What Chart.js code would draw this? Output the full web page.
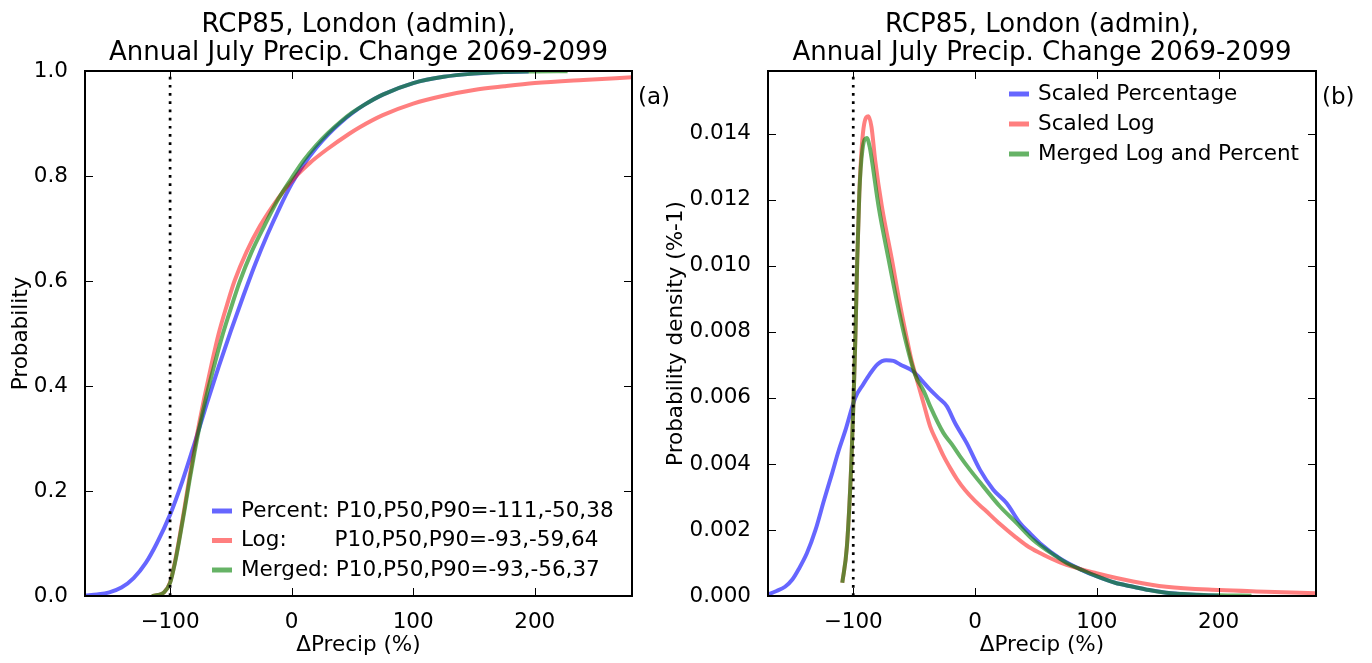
<!DOCTYPE html>
<html>
<head>
<meta charset="utf-8">
<script src="https://cdn.jsdelivr.net/npm/chart.js@4.4.1/dist/chart.umd.min.js"></script>
<style>
  body { margin: 0; background: #fff; width: 1372px; height: 663px; position: relative; overflow: hidden; }
  canvas { position: absolute; top: 0; }
  #cdfChart { left: 0; }
  #pdfChart { left: 655px; }
</style>
</head>
<body>
<canvas id="cdfChart" width="690" height="663"></canvas>
<canvas id="pdfChart" width="717" height="663"></canvas>
<script>
const FONT = '"DejaVu Sans", "Liberation Sans", sans-serif';

/* -------------------------------------------------------------
 * DATA
 * ------------------------------------------------------------- */

const titleLines = ['RCP85, London (admin),', 'Annual July Precip. Change 2069-2099'];
const xTicks = [-100, 0, 100, 200];
const cdfTicks = [0, 0.2, 0.4, 0.6, 0.8, 1.0];
const pdfTicks = [0, 0.002, 0.004, 0.006, 0.008, 0.010, 0.012, 0.014];
const threshold = -100;

const cdfLabels = [
	'Percent: P10,P50,P90=-111,-50,38',
	'Log:       P10,P50,P90=-93,-59,64',
	'Merged: P10,P50,P90=-93,-56,37'
];
const pdfLabels = ['Scaled Percentage', 'Scaled Log', 'Merged Log and Percent'];

// (a) cumulative probability
const pctX = [-170, -160, -150, -140, -130, -120, -111, -100, -90, -80, -70, -60, -50, -40, -30, -20, -10, 0, 10, 20, 30, 40, 50, 60, 75, 100, 125, 150, 175, 195];
const pctP = [0.001, 0.003, 0.007, 0.016, 0.034, 0.063, 0.100, 0.155, 0.218, 0.290, 0.365, 0.437, 0.505, 0.570, 0.632, 0.688, 0.739, 0.785, 0.822, 0.853, 0.879, 0.901, 0.920, 0.936, 0.955, 0.977, 0.989, 0.995, 0.998, 0.999];

const logX = [-115, -110, -105, -100, -96, -92, -88, -84, -80, -76, -72, -66, -60, -53, -47, -37, -26, -11, 2.5, 15, 28.6, 47.7, 56, 75, 100, 125, 150, 175, 200, 240, 280];
const logP = [0, 0.002, 0.007, 0.026, 0.065, 0.115, 0.170, 0.227, 0.280, 0.330, 0.376, 0.440, 0.500, 0.556, 0.600, 0.656, 0.705, 0.758, 0.797, 0.825, 0.850, 0.881, 0.893, 0.916, 0.938, 0.953, 0.964, 0.971, 0.977, 0.983, 0.988];

const mrgX = [-115, -110, -105, -100, -96, -92, -88, -84, -80, -76, -70, -63, -56.5, -49, -43, -33, -22, -11, 0, 10, 20, 30, 40, 50, 60, 75, 100, 125, 150, 175, 200, 227];
const mrgP = [0, 0.002, 0.007, 0.025, 0.063, 0.112, 0.165, 0.220, 0.272, 0.320, 0.382, 0.445, 0.500, 0.555, 0.597, 0.655, 0.707, 0.756, 0.796, 0.830, 0.858, 0.882, 0.903, 0.921, 0.936, 0.955, 0.977, 0.989, 0.995, 0.998, 0.999, 0.9995];

// (b) probability density
const sPctX = [-170, -163, -156, -150, -145, -138, -131, -124, -117.5, -112, -106.6, -98.4, -92, -87.5, -80, -73, -67, -61.5, -50.6, -43, -36.9, -30, -23.2, -16.4, -6.8, 4.1, 15, 26, 36.9, 45, 53.3, 69.7, 87, 99.7, 115, 129.8, 143, 157, 170, 184.4, 200];
const sPctD = [0.00005, 0.00015, 0.00028, 0.0005, 0.0008, 0.0013, 0.0020, 0.0029, 0.0037, 0.0044, 0.0050, 0.0060, 0.0064, 0.00666, 0.00702, 0.00714, 0.00712, 0.00701, 0.0068, 0.0065, 0.00625, 0.0060, 0.00575, 0.00524, 0.00463, 0.00382, 0.00322, 0.00281, 0.00221, 0.0019, 0.0016, 0.00114, 0.0008, 0.0006, 0.0004, 0.00028, 0.00018, 0.0001, 0.00006, 0.00003, 0.00001];

const sLogX = [-109, -105.2, -101.6, -99.7, -98.2, -96.7, -95, -93, -91, -87.5, -85, -82, -76.5, -68.3, -62, -56, -51.9, -47.8, -42, -36.9, -31, -26, -20, -15, -8.2, 0, 8, 20.5, 32.8, 42.4, 53.3, 61.5, 75.2, 99.7, 129.8, 157, 200.8, 239, 280];
const sLogD = [0.0004, 0.0015, 0.0040, 0.0060, 0.0079, 0.0102, 0.0122, 0.0136, 0.0143, 0.01453, 0.0142, 0.0132, 0.0118, 0.0102, 0.0089, 0.0078, 0.0071, 0.00656, 0.0058, 0.00514, 0.00465, 0.00425, 0.00385, 0.00355, 0.00321, 0.00288, 0.00261, 0.00218, 0.0018, 0.00153, 0.0013, 0.00115, 0.00094, 0.00069, 0.00044, 0.00028, 0.00018, 0.00013, 0.00008];

const mrgDX = [-109, -105.2, -101.6, -99.7, -98.2, -96.7, -95, -92.5, -88.8, -86.5, -84.7, -79.2, -71, -64, -57.4, -49.2, -42, -36.9, -26, -19.1, -12.3, -4.1, 6.8, 20.5, 34.2, 47.8, 67, 75.2, 87, 99.7, 115, 129.8, 143, 157, 184, 200, 227];
const mrgD = [0.0004, 0.0015, 0.0040, 0.0060, 0.0079, 0.0102, 0.0122, 0.0135, 0.01387, 0.0136, 0.0132, 0.0118, 0.0102, 0.0089, 0.0078, 0.0067, 0.0062, 0.00575, 0.00494, 0.0046, 0.00423, 0.00382, 0.00332, 0.00271, 0.00221, 0.0017, 0.00119, 0.0010, 0.0008, 0.0006, 0.0004, 0.00028, 0.00018, 0.0001, 0.00004, 0.00002, 0.00001];

/* -------------------------------------------------------------
 * HELPERS
 * ------------------------------------------------------------- */

const BLUE = 'rgba(0, 0, 255, 0.6)';
const RED = 'rgba(255, 0, 0, 0.5)';
const GREEN = 'rgba(0, 128, 0, 0.6)';

const pts = (xs, ys) => xs.map((x, i) => ({ x, y: ys[i] }));

function curve(label, xs, ys, color, order) {
	return {
		label,
		data: pts(xs, ys),
		borderColor: color,
		borderWidth: 4,
		pointRadius: 0,
		cubicInterpolationMode: 'monotone',
		order
	};
}

function dottedLine(yMax) {
	return {
		data: [{ x: threshold, y: 0 }, { x: threshold, y: yMax }],
		borderColor: '#000',
		borderWidth: 2.7,
		borderDash: [2.7, 5.5],
		pointRadius: 0,
		order: 0
	};
}

// frame, inward ticks, title, panel tag and in-axes legend
const decor = {
	id: 'decor',
	afterDatasetsDraw(chart, args, opts) {
		const { ctx, chartArea: a, scales: { x, y } } = chart;
		ctx.save();

		ctx.strokeStyle = '#000';
		ctx.lineWidth = 1;
		ctx.beginPath();
		x.ticks.forEach(t => {
			const px = Math.round(x.getPixelForValue(t.value)) + 0.5;
			ctx.moveTo(px, a.bottom); ctx.lineTo(px, a.bottom - 8);
			ctx.moveTo(px, a.top); ctx.lineTo(px, a.top + 8);
		});
		y.ticks.forEach(t => {
			const py = Math.round(y.getPixelForValue(t.value)) + 0.5;
			ctx.moveTo(a.left, py); ctx.lineTo(a.left + 8, py);
			ctx.moveTo(a.right, py); ctx.lineTo(a.right - 8, py);
		});
		ctx.stroke();

		ctx.lineWidth = 2;
		ctx.strokeRect(a.left, a.top, a.width, a.height);

		ctx.fillStyle = '#000';
		ctx.font = '26px ' + FONT;
		ctx.textAlign = 'center';
		ctx.textBaseline = 'alphabetic';
		const cx = (a.left + a.right) / 2;
		titleLines.forEach((s, i) => ctx.fillText(s, cx, 32 + i * 28));

		ctx.font = '23px ' + FONT;
		ctx.textAlign = 'left';
		ctx.fillText(opts.tag, a.right + 6, 104);

		const lg = opts.legend;
		ctx.font = '21.5px ' + FONT;
		ctx.textBaseline = 'middle';
		chart.data.datasets.filter(d => d.label).forEach((d, i) => {
			const yy = lg.y + i * lg.dy;
			ctx.strokeStyle = d.borderColor;
			ctx.lineWidth = 5;
			ctx.beginPath();
			ctx.moveTo(lg.x, yy);
			ctx.lineTo(lg.x + 20, yy);
			ctx.stroke();
			ctx.fillText(d.label, lg.x + 29, yy);
		});

		ctx.restore();
	}
};

function makeOptions({ yMax, yTicks, digits, yTitle, yWidth, rightPad, tag, legend }) {
	const tickFont = { family: FONT, size: 21.5 };
	return {
		responsive: false,
		animation: false,
		devicePixelRatio: 1,
		layout: { padding: { top: 71, right: rightPad, left: 0, bottom: 0 } },
		plugins: {
			legend: { display: false },
			tooltip: { enabled: false },
			decor: { tag, legend }
		},
		scales: {
			x: {
				type: 'linear',
				min: -170,
				max: 280,
				grid: { display: false },
				border: { display: false },
				afterBuildTicks: s => { s.ticks = xTicks.map(v => ({ value: v })); },
				afterFit: s => { s.height = 67; },
				ticks: {
					font: tickFont,
					color: '#000',
					padding: 6,
					maxRotation: 0,
					callback: v => String(v).replace('-', '\u2212')
				},
				title: {
					display: true,
					text: '\u0394Precip (%)',
					font: tickFont,
					color: '#000',
					padding: { top: 0, bottom: 5 }
				}
			},
			y: {
				type: 'linear',
				min: 0,
				max: yMax,
				grid: { display: false },
				border: { display: false },
				afterBuildTicks: s => { s.ticks = yTicks.map(v => ({ value: v })); },
				afterFit: s => { s.width = yWidth; },
				ticks: {
					font: tickFont,
					color: '#000',
					padding: 9,
					callback: v => v.toFixed(digits)
				},
				title: {
					display: true,
					text: yTitle,
					font: tickFont,
					color: '#000',
					padding: { top: 9, bottom: 0 }
				}
			}
		}
	};
}

/* -------------------------------------------------------------
 * (a) CDF PANEL
 * ------------------------------------------------------------- */

new Chart(document.getElementById('cdfChart'), {
	type: 'line',
	data: {
		datasets: [
			curve(cdfLabels[0], pctX, pctP, BLUE, 3),
			curve(cdfLabels[1], logX, logP, RED, 2),
			curve(cdfLabels[2], mrgX, mrgP, GREEN, 1),
			dottedLine(1.0)
		]
	},
	options: makeOptions({
		yMax: 1.0, yTicks: cdfTicks, digits: 1, yTitle: 'Probability',
		yWidth: 85, rightPad: 58, tag: '(a)',
		legend: { x: 212, y: 511, dy: 29.5 }
	}),
	plugins: [decor]
});

/* -------------------------------------------------------------
 * (b) PDF PANEL
 * ------------------------------------------------------------- */

const pdfMax = 0.0159;

new Chart(document.getElementById('pdfChart'), {
	type: 'line',
	data: {
		datasets: [
			curve(pdfLabels[0], sPctX, sPctD, BLUE, 3),
			curve(pdfLabels[1], sLogX, sLogD, RED, 2),
			curve(pdfLabels[2], mrgDX, mrgD, GREEN, 1),
			dottedLine(pdfMax)
		]
	},
	options: makeOptions({
		yMax: pdfMax, yTicks: pdfTicks, digits: 3, yTitle: 'Probability density (%-1)',
		yWidth: 113, rightPad: 56, tag: '(b)',
		legend: { x: 354, y: 94, dy: 30 }
	}),
	plugins: [decor]
});
</script>
</body>
</html>
